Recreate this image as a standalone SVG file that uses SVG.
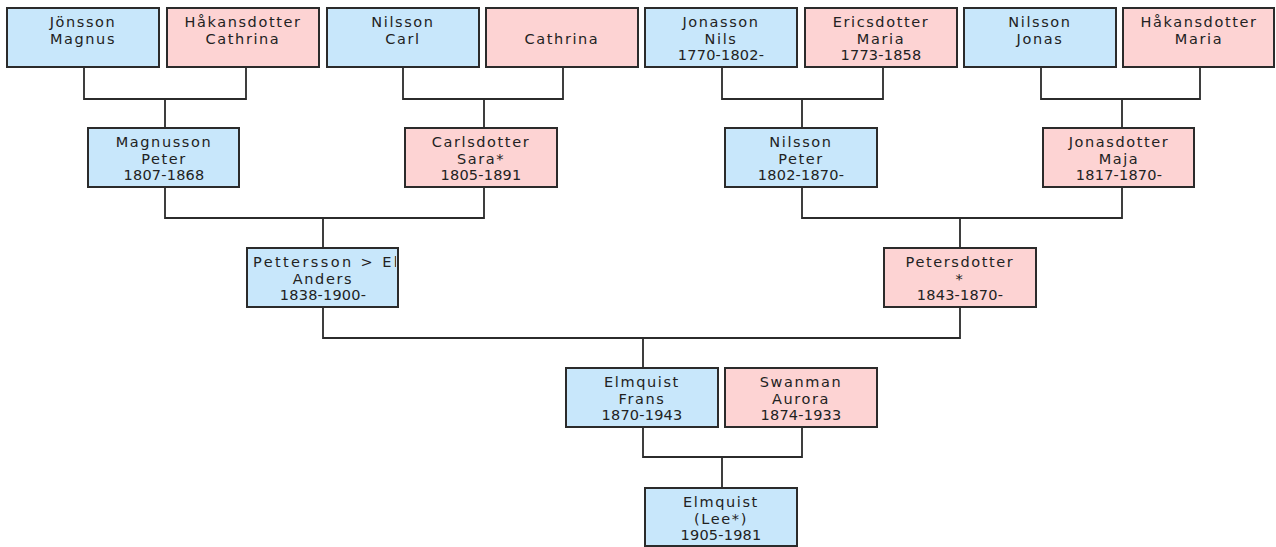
<svg xmlns="http://www.w3.org/2000/svg" width="1276" height="547" viewBox="0 0 1276 547">
<style>
.b rect{stroke:#2b2b2b;stroke-width:2}
.m rect{fill:#c8e7fb}
.f rect{fill:#fdd3d3}
text{font-family:"DejaVu Sans","Liberation Sans",sans-serif;font-size:14.5px;fill:#222;text-anchor:middle;letter-spacing:1.6px}
text.d{letter-spacing:0.2px}
.c path{fill:none;stroke:#2b2b2b;stroke-width:1.8}
</style>
<defs>
<clipPath id="cp"><rect x="248" y="249" width="148" height="57"/></clipPath>
</defs>
<rect width="1276" height="547" fill="#ffffff"/>
<g class="c" id="connectors">
<path d="M84 67V99H246V67M165 99V128"/>
<path d="M403 67V99H563V67M484 99V128"/>
<path d="M722 67V99H883V67M802 99V128"/>
<path d="M1041 67V99H1200V67M1122 99V128"/>
<path d="M165 187V218H484V187M323 218V248"/>
<path d="M802 187V218H1122V187M960 218V248"/>
<path d="M323 307V338H960V307M643 338V368"/>
<path d="M643 427V457H802V427M722 457V488"/>
</g>
<g id="n1" class="b m"><rect x="7" y="8" width="152" height="59"/><text x="83" y="27">Jönsson</text><text x="83" y="44">Magnus</text></g>
<g id="n2" class="b f"><rect x="167" y="8" width="152" height="59"/><text x="243" y="27">Håkansdotter</text><text x="243" y="44">Cathrina</text></g>
<g id="n3" class="b m"><rect x="327" y="8" width="152" height="59"/><text x="403" y="27">Nilsson</text><text x="403" y="44">Carl</text></g>
<g id="n4" class="b f"><rect x="486" y="8" width="152" height="59"/><text x="562" y="44">Cathrina</text></g>
<g id="n5" class="b m"><rect x="645" y="8" width="152" height="59"/><text x="721" y="27">Jonasson</text><text x="721" y="44">Nils</text><text class="d" x="721" y="60">1770-1802-</text></g>
<g id="n6" class="b f"><rect x="805" y="8" width="152" height="59"/><text x="881" y="27">Ericsdotter</text><text x="881" y="44">Maria</text><text class="d" x="881" y="60">1773-1858</text></g>
<g id="n7" class="b m"><rect x="964" y="8" width="152" height="59"/><text x="1040" y="27">Nilsson</text><text x="1040" y="44">Jonas</text></g>
<g id="n8" class="b f"><rect x="1123" y="8" width="151" height="59"/><text x="1199" y="27">Håkansdotter</text><text x="1199" y="44">Maria</text></g>
<g id="n9" class="b m"><rect x="88" y="128" width="151" height="59"/><text x="164" y="147">Magnusson</text><text x="164" y="164">Peter</text><text class="d" x="164" y="180">1807-1868</text></g>
<g id="n10" class="b f"><rect x="405" y="128" width="152" height="59"/><text x="481" y="147">Carlsdotter</text><text x="481" y="164">Sara*</text><text class="d" x="481" y="180">1805-1891</text></g>
<g id="n11" class="b m"><rect x="725" y="128" width="152" height="59"/><text x="801" y="147">Nilsson</text><text x="801" y="164">Peter</text><text class="d" x="801" y="180">1802-1870-</text></g>
<g id="n12" class="b f"><rect x="1043" y="128" width="151" height="59"/><text x="1119" y="147">Jonasdotter</text><text x="1119" y="164">Maja</text><text class="d" x="1119" y="180">1817-1870-</text></g>
<g id="n13" class="b m"><rect x="247" y="248" width="151" height="59"/><text clip-path="url(#cp)" x="253" y="267" style="text-anchor:start;letter-spacing:2.4px">Pettersson &gt; Elm</text><text x="323" y="284">Anders</text><text class="d" x="323" y="300">1838-1900-</text></g>
<g id="n14" class="b f"><rect x="884" y="248" width="152" height="59"/><text x="960" y="267">Petersdotter</text><text x="960" y="284">*</text><text class="d" x="960" y="300">1843-1870-</text></g>
<g id="n15" class="b m"><rect x="566" y="368" width="152" height="59"/><text x="642" y="387">Elmquist</text><text x="642" y="404">Frans</text><text class="d" x="642" y="420">1870-1943</text></g>
<g id="n16" class="b f"><rect x="725" y="368" width="152" height="59"/><text x="801" y="387">Swanman</text><text x="801" y="404">Aurora</text><text class="d" x="801" y="420">1874-1933</text></g>
<g id="n17" class="b m"><rect x="645" y="488" width="152" height="58"/><text x="721" y="507">Elmquist</text><text x="721" y="524">(Lee*)</text><text class="d" x="721" y="540">1905-1981</text></g>
</svg>
